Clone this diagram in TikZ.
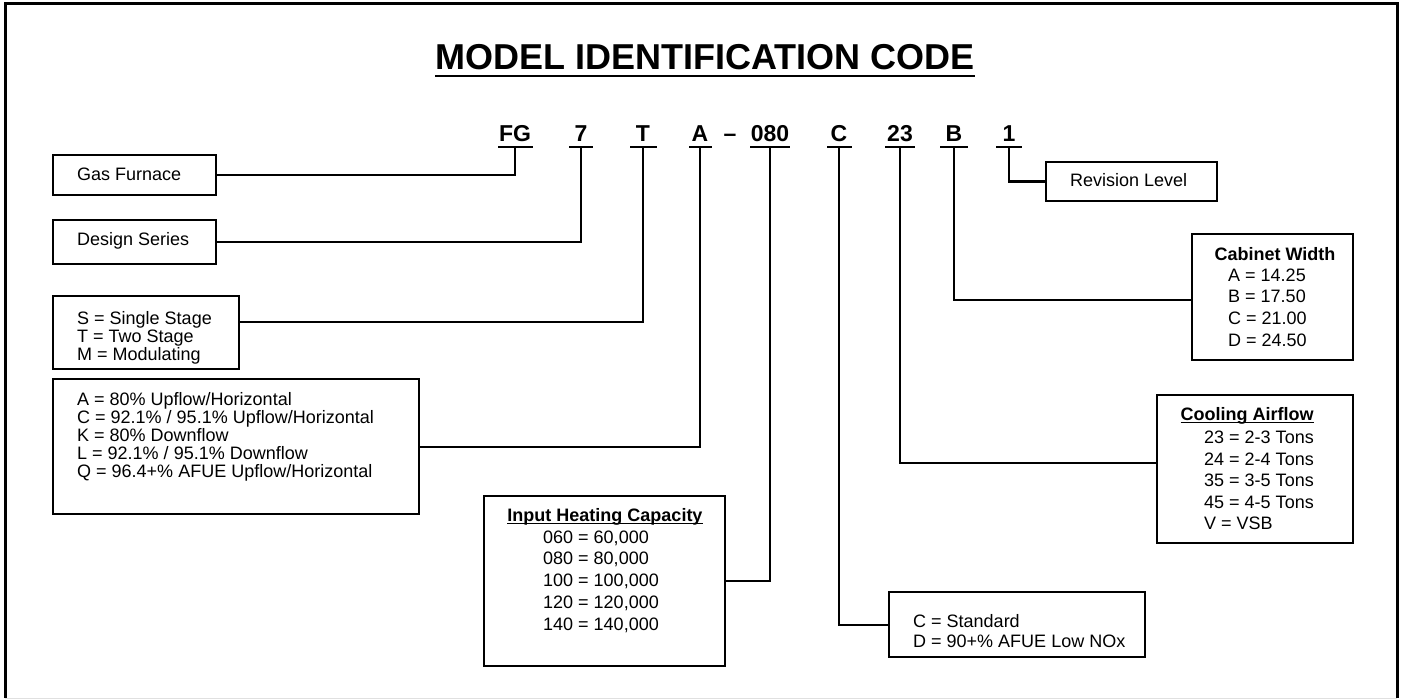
\documentclass[tikz,border=0pt]{standalone}
\usepackage{fontspec}
\setmainfont{Liberation Sans}
\newcommand{\myul}[3]{\setbox0\hbox{#1}\rlap{\rule[#2]{\wd0}{#3}}\box0}
\begin{document}
\begin{tikzpicture}[x=1pt,y=-1pt,
  box/.style 2 args={draw, line width=2.4pt, inner sep=0pt, minimum width=#1, minimum height=#2, anchor=north west},
  txt/.style={font=\fontsize{18pt}{21.7pt}\selectfont, inner sep=0pt, anchor=west, align=left},
  hd/.style={font=\fontsize{18pt}{21.7pt}\selectfont\bfseries, inner sep=0pt, anchor=center},
  code/.style={font=\fontsize{23pt}{27pt}\selectfont\bfseries, inner sep=0pt, anchor=base},
  bar/.style={line width=2.4pt},
  conn/.style={line width=2.4pt}]
\useasboundingbox (0,0) rectangle (1403,700);
% frame
\draw[line width=3pt] (5,698) -- (5,4) -- (1397,4) -- (1397,698);
\draw[black!12, line width=1pt] (5,698.5) -- (1397,698.5);
% title
\node[font=\fontsize{36pt}{40pt}\selectfont\bfseries, inner sep=0pt, anchor=base] (title) at (705,70) {\myul{MODEL IDENTIFICATION CODE}{-7.5pt}{2.6pt}};
% code letters
\node[code] (kFG) at (515,142) {FG};
\node[code] (k7) at (581,142) {7};
\node[code] (kT) at (643,142) {T};
\node[code] (kA) at (700,142) {A};
\node[code] (kdash) at (730,142) {–};
\node[code] (k080) at (770,142) {080};
\node[code] (kC) at (839,142) {C};
\node[code] (k23) at (900,142) {23};
\node[code] (kB) at (954,142) {B};
\node[code] (k1) at (1009,142) {1};
% underline bars
\coordinate (uFG) at (515,147); \draw[bar] (498,147) -- (533,147);
\coordinate (u7) at (581,147);  \draw[bar] (569,147) -- (593,147);
\coordinate (uT) at (643,147);  \draw[bar] (630,147) -- (657,147);
\coordinate (uA) at (700,147);  \draw[bar] (689,147) -- (712,147);
\coordinate (u080) at (770,147); \draw[bar] (750,147) -- (790,147);
\coordinate (uC) at (839,147);  \draw[bar] (827,147) -- (852,147);
\coordinate (u23) at (900,147); \draw[bar] (885,147) -- (915,147);
\coordinate (uB) at (954,147);  \draw[bar] (940,147) -- (968,147);
\coordinate (u1) at (1009,147); \draw[bar] (996,147) -- (1022,147);
% boxes
\node[box={163pt}{40pt}] (gas) at (52,154) {};
\node[txt] (gast) at (77,174) {Gas Furnace};
\node[box={163pt}{44pt}] (des) at (52,219) {};
\node[txt] (dest) at (77,241) {Design Series};
\node[box={186pt}{73pt}] (stm) at (52,295) {};
\node[txt, font=\fontsize{18pt}{18pt}\selectfont] (stmt) at (77,338) {S = Single Stage\\T = Two Stage\\M = Modulating};
\coordinate (stmj) at (238,322);
\node[box={366pt}{135pt}] (abox) at (52,378) {};
\node[txt, font=\fontsize{18pt}{18pt}\selectfont] (aboxt) at (77,437) {A = 80\% Upflow/Horizontal\\C = 92.1\% / 95.1\% Upflow/Horizontal\\K = 80\% Downflow\\L = 92.1\% / 95.1\% Downflow\\Q = 96.4+\% AFUE Upflow/Horizontal};
\node[box={241pt}{170pt}] (ihc) at (483,495) {};
\node[hd] (ihch) at (605,517) {\myul{Input Heating Capacity}{-2.6pt}{1.3pt}};
\node[txt] (ihct) at (543,581.5) {060 = 60,000\\080 = 80,000\\100 = 100,000\\120 = 120,000\\140 = 140,000};
\node[box={256pt}{65pt}] (cd) at (888,591) {};
\node[txt, font=\fontsize{18pt}{20.7pt}\selectfont] (cdt) at (913,631) {C = Standard\\D = 90+\% AFUE Low NOx};
\node[box={196pt}{148pt}] (cool) at (1156,394) {};
\node[hd] (coolh) at (1247,416) {\myul{Cooling Airflow}{-2.6pt}{1.3pt}};
\node[txt, font=\fontsize{18pt}{21.5pt}\selectfont] (coolt) at (1204,480.5) {23 = 2-3 Tons\\24 = 2-4 Tons\\35 = 3-5 Tons\\45 = 4-5 Tons\\V = VSB};
\coordinate (coolj) at (1156,463);
\node[box={161pt}{126pt}] (cab) at (1191,233) {};
\node[hd] (cabh) at (1275,254) {Cabinet Width};
\node[txt] (cabt) at (1228,307.5) {A = 14.25\\B = 17.50\\C = 21.00\\D = 24.50};
\coordinate (cabj) at (1191,300);
\node[box={171pt}{39pt}] (rev) at (1045,161) {};
\node[txt] (revt) at (1070,180.5) {Revision Level};
% connectors
\draw[conn] (uFG) |- (gas.east);
\draw[conn] (u7) |- (des.east);
\draw[conn] (uT) |- (stmj);
\draw[conn] (uA) |- (abox.east);
\draw[conn] (u080) |- (ihc.east);
\draw[conn] (uC) |- (cd.west);
\draw[conn] (u23) |- (coolj);
\draw[conn] (uB) |- (cabj);
\draw[conn] (u1) |- (rev.west);
\end{tikzpicture}
\end{document}
